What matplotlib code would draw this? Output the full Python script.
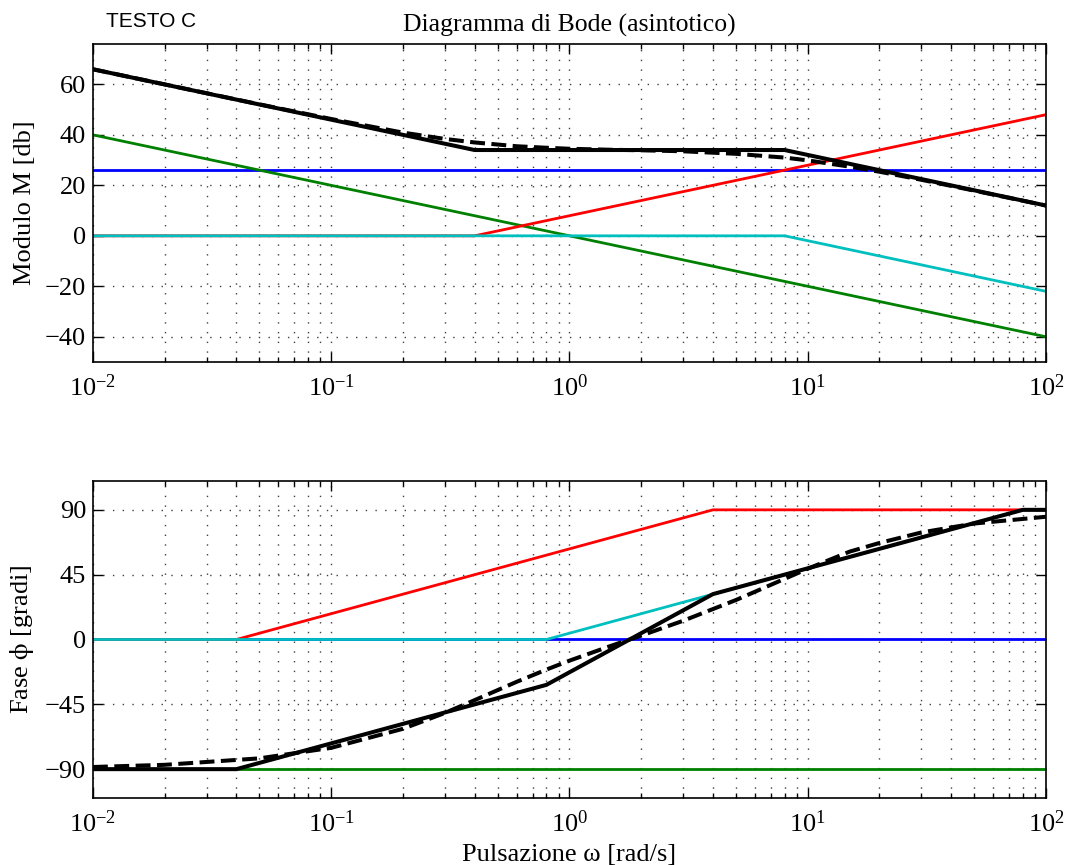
import matplotlib
matplotlib.use('Agg')
import matplotlib.pyplot as plt
from matplotlib.ticker import LogLocator, NullFormatter

plt.rcParams['font.family'] = ['Liberation Serif', 'DejaVu Serif']
plt.rcParams['mathtext.fontset'] = 'stix'

# modulo asintotico [dB]
w_k = [0.01, 100]
mag_k = [26, 26]
w_int = [0.01, 100]
mag_int = [40, -40]
w_zero = [0.01, 0.4, 100]
mag_zero = [0, 0, 48]
w_pole = [0.01, 8, 100]
mag_pole = [0, 0, -22]
w_tot = [0.01, 0.4, 8, 100]
mag_tot = [66, 34, 34, 12]

# fase asintotica [gradi]
ph_k = [0, 0]
ph_int = [-90, -90]
w_zero_ph = [0.01, 0.04, 4, 100]
ph_zero = [0, 0, 90, 90]
w_pole_ph = [0.01, 0.8, 80, 100]
ph_pole = [0, 0, 90, 90]
w_tot_ph = [0.01, 0.04, 0.8, 4, 80, 100]
ph_tot = [-90, -90, -31.5, 31.5, 90, 90]

# curve reali (tratteggiate)
w_real = [0.01, 0.02, 0.05, 0.1, 0.2, 0.3, 0.4, 0.6, 0.8, 1, 1.5, 2, 3, 5, 8,
          10, 15, 20, 30, 50, 100]
mag_real = [66.0, 60.0, 52.1, 46.3, 40.9, 38.4, 37.0, 35.5, 34.9, 34.5, 34.1,
            33.9, 33.5, 32.5, 31.0, 29.9, 27.4, 25.4, 22.2, 17.9, 12.0]
ph_real = [-88.5, -87.0, -82.5, -75.2, -62.0, -51.0, -42.1, -29.4, -20.9, -14.7,
           -4.3, 2.7, 13.0, 27.4, 42.1, 49.1, 61.0, 67.0, 74.3, 80.5, 85.2]

col_k = '#0000ff'
col_int = '#008000'
col_zero = '#ff0000'
col_pole = '#00bfbf'

fig = plt.figure(figsize=(10.66, 8.65), dpi=100)
ax1 = fig.add_axes([0.0872, 0.5815, 0.894, 0.3676])
ax2 = fig.add_axes([0.0872, 0.0775, 0.894, 0.3664])

lw = 2.0
lwt = 2.9
fs = 19

ax1.semilogx(w_k, mag_k, color=col_k, lw=lw)
ax1.semilogx(w_int, mag_int, color=col_int, lw=lw)
ax1.semilogx(w_zero, mag_zero, color=col_zero, lw=lw)
ax1.semilogx(w_pole, mag_pole, color=col_pole, lw=lw)
ax1.semilogx(w_tot, mag_tot, color='k', lw=lwt)
ax1.semilogx(w_real, mag_real, color='k', lw=lwt, ls='--')

ax2.semilogx(w_k, ph_k, color=col_k, lw=lw)
ax2.semilogx(w_int, ph_int, color=col_int, lw=lw)
ax2.semilogx(w_zero_ph, ph_zero, color=col_zero, lw=lw)
ax2.semilogx(w_pole_ph, ph_pole, color=col_pole, lw=lw)
ax2.semilogx(w_tot_ph, ph_tot, color='k', lw=lwt)
ax2.semilogx(w_real, ph_real, color='k', lw=lwt, ls='--')

ax1.set_ylim(-50, 76)
ax1.set_yticks([-40, -20, 0, 20, 40, 60])
ax2.set_ylim(-110, 110)
ax2.set_yticks([-90, -45, 0, 45, 90])

for ax in (ax1, ax2):
    ax.set_xlim(0.01, 100)
    ax.xaxis.set_major_locator(LogLocator(base=10, numticks=10))
    ax.xaxis.set_minor_locator(LogLocator(base=10, subs=range(2, 10), numticks=20))
    ax.xaxis.set_minor_formatter(NullFormatter())
    ax.tick_params(which='both', direction='in', top=True, right=True,
                   labelsize=fs, width=1.0)
    ax.tick_params(which='major', length=7)
    ax.tick_params(which='minor', length=3.5)
    ax.tick_params(axis='x', pad=9)
    ax.tick_params(axis='y', pad=5)
    ax.grid(True, which='major', axis='both', color='0.25',
            linestyle=(0, (1, 6)), linewidth=1.0)
    ax.grid(True, which='minor', axis='x', color='0.25',
            linestyle=(0, (1, 6)), linewidth=1.0)
    for s in ax.spines.values():
        s.set_linewidth(1.2)

ax1.set_ylabel('Modulo M [db]', fontsize=fs)
ax2.set_ylabel(r'Fase $\mathrm{\phi}$ [gradi]', fontsize=fs)
ax1.yaxis.set_label_coords(-0.060, 0.5)
ax2.yaxis.set_label_coords(-0.060, 0.5)
ax2.set_xlabel('Pulsazione ω [rad/s]', fontsize=fs, labelpad=5)
ax1.set_title('Diagramma di Bode (asintotico)', fontsize=18.5, pad=9)
fig.text(106 / 1066, 1 - 27 / 865, 'TESTO C', fontsize=15,
         family=['Liberation Sans', 'DejaVu Sans'], ha='left', va='baseline')

fig.savefig('out.png', dpi=100)
